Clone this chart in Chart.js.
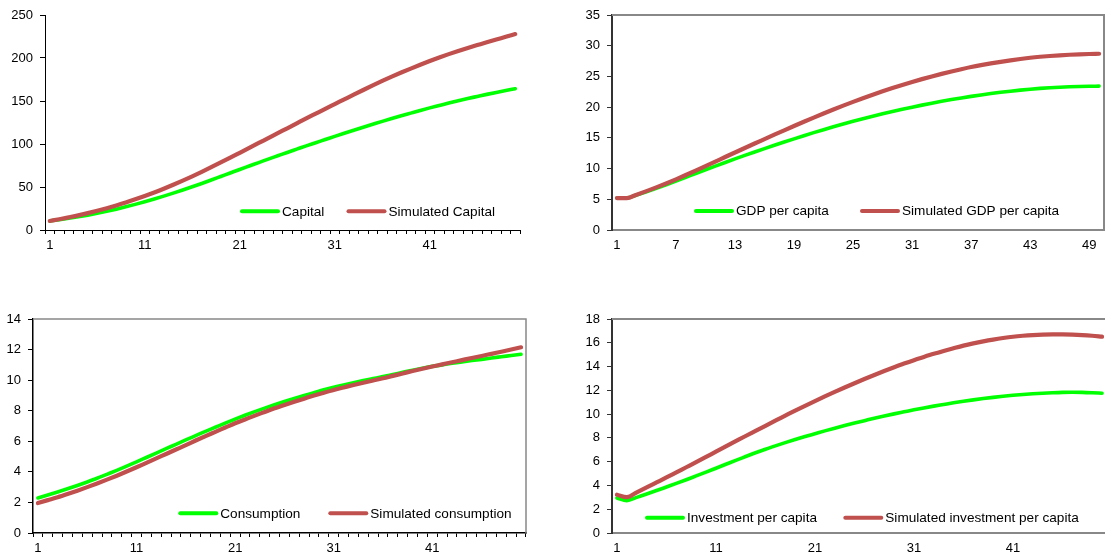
<!DOCTYPE html>
<html>
<head>
<meta charset="utf-8">
<title>Simulation</title>
<script src="https://cdn.jsdelivr.net/npm/chart.js@4.4.1/dist/chart.umd.min.js"></script>
<style>
  html, body { margin: 0; padding: 0; background: #fff; overflow: hidden; }
  #page { position: relative; width: 1105px; height: 558px; overflow: hidden; }
  .panel { position: absolute; }
  .panel canvas { display: block; }
</style>
</head>
<body>
<div id="page">
  <div class="panel" style="left:0;top:0"><canvas id="chartCapital" width="552" height="279"></canvas></div>
  <div class="panel" style="left:552px;top:0"><canvas id="chartGdp" width="560" height="279"></canvas></div>
  <div class="panel" style="left:0;top:279px"><canvas id="chartConsumption" width="552" height="279"></canvas></div>
  <div class="panel" style="left:552px;top:279px"><canvas id="chartInvestment" width="560" height="279"></canvas></div>
</div>
<script>
// Périodes (axe des catégories)
const periods = ['1','2','3','4','5','6','7','8','9','10','11','12','13','14','15','16','17','18','19','20',
  '21','22','23','24','25','26','27','28','29','30','31','32','33','34','35','36','37','38','39','40',
  '41','42','43','44','45','46','47','48','49','50'];

// Capital
const capital = [10.5, 12.0, 13.6, 15.4, 17.3, 19.4, 21.7, 24.2, 26.9, 29.8,
  32.9, 36.1, 39.4, 42.9, 46.5, 50.2, 54.1, 58.1, 62.2, 66.3,
  70.4, 74.4, 78.4, 82.4, 86.3, 90.2, 94.0, 97.8, 101.5, 105.2,
  108.9, 112.5, 116.0, 119.5, 122.9, 126.3, 129.6, 132.8, 135.9, 139.0,
  142.0, 144.8, 147.6, 150.3, 152.9, 155.3, 157.7, 160.0, 162.2, 164.3];
const simCapital = [10.5, 12.5, 14.7, 17.0, 19.6, 22.4, 25.4, 28.6, 32.0, 35.7,
  39.6, 43.7, 48.0, 52.6, 57.4, 62.4, 67.6, 73.0, 78.5, 84.1,
  89.8, 95.5, 101.2, 106.9, 112.6, 118.3, 124.0, 129.7, 135.3, 140.9,
  146.4, 151.9, 157.4, 162.8, 168.1, 173.3, 178.3, 183.1, 187.7, 192.2,
  196.5, 200.6, 204.5, 208.2, 211.7, 215.0, 218.3, 221.5, 224.6, 227.8];

// PIB par habitant
const gdpPerCapita = [5.2, 5.2, 5.70, 6.23, 6.79, 7.37, 7.97, 8.58, 9.19, 9.80,
  10.40, 10.99, 11.57, 12.14, 12.70, 13.25, 13.79, 14.32, 14.84, 15.35,
  15.85, 16.33, 16.80, 17.25, 17.69, 18.11, 18.52, 18.91, 19.29, 19.65,
  20.00, 20.33, 20.65, 20.95, 21.23, 21.50, 21.75, 21.99, 22.21, 22.41,
  22.60, 22.77, 22.92, 23.05, 23.16, 23.25, 23.32, 23.37, 23.40, 23.42];
const simGdpPerCapita = [5.2, 5.2, 5.75, 6.33, 6.94, 7.58, 8.25, 8.95, 9.67, 10.40,
  11.14, 11.88, 12.62, 13.35, 14.08, 14.80, 15.52, 16.23, 16.93, 17.62,
  18.30, 18.97, 19.62, 20.25, 20.86, 21.45, 22.02, 22.57, 23.10, 23.61,
  24.10, 24.56, 25.00, 25.42, 25.81, 26.18, 26.53, 26.84, 27.12, 27.38,
  27.62, 27.84, 28.04, 28.20, 28.33, 28.44, 28.53, 28.60, 28.65, 28.69];

// Consommation
const consumption = [2.29, 2.48, 2.68, 2.89, 3.11, 3.34, 3.58, 3.84, 4.10, 4.37,
  4.65, 4.94, 5.23, 5.52, 5.80, 6.09, 6.37, 6.65, 6.92, 7.19,
  7.45, 7.70, 7.94, 8.17, 8.39, 8.60, 8.80, 8.99, 9.18, 9.37,
  9.54, 9.69, 9.83, 9.97, 10.10, 10.23, 10.37, 10.51, 10.65, 10.78,
  10.90, 11.00, 11.10, 11.19, 11.28, 11.36, 11.45, 11.53, 11.61, 11.69];
const simConsumption = [1.96, 2.15, 2.34, 2.55, 2.77, 3.00, 3.24, 3.49, 3.75, 4.02,
  4.30, 4.59, 4.88, 5.17, 5.46, 5.75, 6.05, 6.34, 6.62, 6.90,
  7.18, 7.43, 7.68, 7.92, 8.16, 8.38, 8.59, 8.79, 8.99, 9.18,
  9.36, 9.52, 9.68, 9.83, 9.98, 10.12, 10.28, 10.44, 10.60, 10.75,
  10.89, 11.03, 11.17, 11.31, 11.45, 11.58, 11.72, 11.86, 12.00, 12.15];

// Investissement par habitant
const investmentPerCapita = [2.94, 2.72, 3.00, 3.28, 3.57, 3.87, 4.17, 4.48, 4.80, 5.12,
  5.45, 5.78, 6.11, 6.43, 6.75, 7.05, 7.33, 7.60, 7.86, 8.11,
  8.35, 8.59, 8.82, 9.04, 9.25, 9.45, 9.65, 9.84, 10.02, 10.19,
  10.36, 10.52, 10.67, 10.81, 10.95, 11.08, 11.20, 11.31, 11.41, 11.50,
  11.58, 11.65, 11.71, 11.76, 11.80, 11.83, 11.84, 11.83, 11.80, 11.76];
const simInvestmentPerCapita = [3.22, 3.02, 3.42, 3.83, 4.25, 4.67, 5.10, 5.53, 5.96, 6.40,
  6.84, 7.28, 7.72, 8.16, 8.59, 9.02, 9.45, 9.87, 10.29, 10.70,
  11.10, 11.49, 11.87, 12.24, 12.60, 12.95, 13.29, 13.62, 13.94, 14.25,
  14.54, 14.81, 15.07, 15.31, 15.54, 15.76, 15.95, 16.12, 16.27, 16.40,
  16.51, 16.59, 16.65, 16.69, 16.71, 16.71, 16.69, 16.65, 16.59, 16.51];

const GREEN = '#00FF00';
const RED = '#C0504D';
const FONT = '"Liberation Sans", Arial, sans-serif';

// Légende dessinée à l'intérieur de la zone du graphique
const inlineLegend = {
    id: 'inlineLegend',
    afterDatasetsDraw(chart, args, opts) {
        const ctx = chart.ctx;
        ctx.save();
        ctx.font = '13.6px ' + FONT;
        ctx.textBaseline = 'middle';
        ctx.lineCap = 'round';
        chart.data.datasets.forEach((ds, i) => {
            const x = opts.x[i];
            ctx.strokeStyle = ds.borderColor;
            ctx.lineWidth = 4;
            ctx.beginPath();
            ctx.moveTo(x + 2, opts.y);
            ctx.lineTo(x + 38, opts.y);
            ctx.stroke();
            ctx.fillStyle = '#000';
            ctx.fillText(ds.label, x + 42, opts.y + 0.5);
        });
        ctx.restore();
    }
};

// Cadre gris en haut et à droite
const frame = {
    id: 'frame',
    afterDraw(chart, args, opts) {
        if (!opts.show) return;
        const a = chart.chartArea;
        const ctx = chart.ctx;
        ctx.save();
        ctx.strokeStyle = opts.color;
        ctx.lineWidth = opts.width;
        ctx.beginPath();
        ctx.moveTo(a.left, a.top);
        ctx.lineTo(a.right, a.top);
        ctx.lineTo(a.right, a.bottom);
        ctx.stroke();
        ctx.restore();
    }
};

// Fonction pour dessiner un panneau avec Chart.js
function drawPanel(canvasId, p) {
    const ctx = document.getElementById(canvasId).getContext('2d');
    return new Chart(ctx, {
        type: 'line',
        data: {
            labels: periods,
            datasets: [
                { label: p.labels[0], data: p.series[0], borderColor: GREEN, borderWidth: 3.6, order: 1 },
                { label: p.labels[1], data: p.series[1], borderColor: RED, borderWidth: 4.2, order: 0 }
            ]
        },
        options: {
            responsive: false,
            animation: false,
            events: [],
            elements: {
                point: { radius: 0 },
                line: { cubicInterpolationMode: 'monotone', fill: false, borderCapStyle: 'round', borderJoinStyle: 'round' }
            },
            layout: { padding: { top: p.top, right: p.right, left: 0, bottom: 0 } },
            scales: {
                x: {
                    type: 'category',
                    offset: true,
                    grid: {
                        offset: true,
                        drawOnChartArea: false,
                        drawTicks: true,
                        tickLength: 4,
                        tickColor: p.xTicks ? '#000' : 'rgba(0,0,0,0)',
                        tickWidth: 1
                    },
                    border: { display: true, color: p.xAxisColor, width: p.xAxisWidth },
                    ticks: {
                        autoSkip: false,
                        maxRotation: 0,
                        padding: 4,
                        color: '#000',
                        font: { family: FONT, size: 13 },
                        callback: function (value, index) {
                            return index % p.every === 0 ? this.getLabelForValue(value) : '';
                        }
                    },
                    afterFit: (s) => { s.height = p.xHeight; }
                },
                y: {
                    min: 0,
                    max: p.max,
                    grid: {
                        drawOnChartArea: false,
                        drawTicks: true,
                        tickLength: 5,
                        tickColor: p.yAxisColor,
                        tickWidth: 1
                    },
                    border: { display: true, color: p.yAxisColor, width: p.yAxisWidth },
                    ticks: {
                        stepSize: p.step,
                        padding: 7,
                        color: '#000',
                        font: { family: FONT, size: 13 }
                    },
                    afterFit: (s) => { s.width = p.left; }
                }
            },
            plugins: {
                legend: { display: false },
                tooltip: { enabled: false },
                inlineLegend: { x: p.legendX, y: p.legendY },
                frame: { show: p.frame, color: '#888', width: p.frameWidth }
            }
        },
        plugins: [inlineLegend, frame]
    });
}

document.addEventListener('DOMContentLoaded', () => {
    drawPanel('chartCapital', {
        labels: ['Capital', 'Simulated Capital'],
        series: [capital, simCapital],
        max: 250, step: 50, every: 10,
        left: 45, right: 32, top: 15, xHeight: 49,
        xTicks: true, xAxisColor: '#000', xAxisWidth: 1,
        yAxisColor: '#000', yAxisWidth: 1,
        frame: false, frameWidth: 0,
        legendX: [240, 346.5], legendY: 211.3
    });
    drawPanel('chartGdp', {
        labels: ['GDP per capita', 'Simulated GDP per capita'],
        series: [gdpPerCapita, simGdpPerCapita],
        max: 35, step: 5, every: 6,
        left: 60, right: 8, top: 15, xHeight: 49,
        xTicks: false, xAxisColor: '#888', xAxisWidth: 2,
        yAxisColor: '#333', yAxisWidth: 2,
        frame: true, frameWidth: 2,
        legendX: [142, 308], legendY: 211
    });
    drawPanel('chartConsumption', {
        labels: ['Consumption', 'Simulated consumption'],
        series: [consumption, simConsumption],
        max: 14, step: 2, every: 10,
        left: 33, right: 26, top: 40, xHeight: 25,
        xTicks: true, xAxisColor: '#000', xAxisWidth: 1.5,
        yAxisColor: '#000', yAxisWidth: 1.5,
        frame: true, frameWidth: 1.5,
        legendX: [178.3, 328.3], legendY: 234.3
    });
    drawPanel('chartInvestment', {
        labels: ['Investment per capita', 'Simulated investment per capita'],
        series: [investmentPerCapita, simInvestmentPerCapita],
        max: 18, step: 2, every: 10,
        left: 60, right: 5, top: 40, xHeight: 25,
        xTicks: false, xAxisColor: '#888', xAxisWidth: 2,
        yAxisColor: '#333', yAxisWidth: 2,
        frame: true, frameWidth: 2,
        legendX: [93, 291.3], legendY: 238.7
    });
});
</script>
</body>
</html>
